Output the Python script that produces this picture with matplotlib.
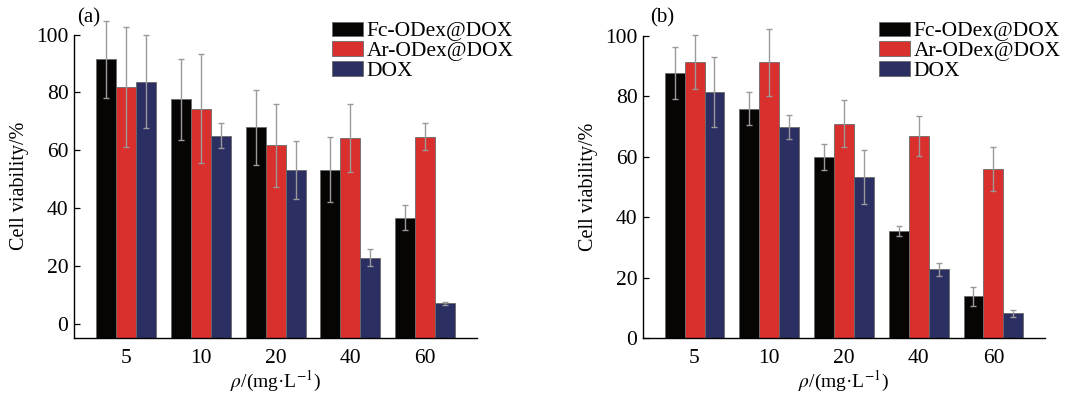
import matplotlib
matplotlib.use("Agg")
import matplotlib.pyplot as plt
import numpy as np

plt.rcParams["font.family"] = ["Liberation Serif", "DejaVu Serif"]
plt.rcParams["mathtext.fontset"] = "stix"

doses = ["5", "10", "20", "40", "60"]
series = ["Fc-ODex@DOX", "Ar-ODex@DOX", "DOX"]
colors = ["#070404", "#d92f2d", "#2c2f62"]

# panel (a)
fc_a = [91.4, 77.7, 67.9, 53.3, 36.8]
fc_a_err = [13.3, 14.0, 12.9, 11.3, 4.4]
ar_a = [81.9, 74.3, 61.7, 64.3, 64.7]
ar_a_err = [20.7, 18.8, 14.4, 11.8, 4.6]
dox_a = [83.7, 65.1, 53.2, 23.0, 7.2]
dox_a_err = [16.1, 4.2, 9.9, 3.1, 0.5]

# panel (b)
fc_b = [87.7, 75.9, 59.9, 35.5, 13.8]
fc_b_err = [8.7, 5.5, 4.4, 1.7, 3.1]
ar_b = [91.3, 91.3, 71.0, 66.9, 56.0]
ar_b_err = [9.0, 11.1, 7.7, 6.6, 7.4]
dox_b = [81.4, 69.8, 53.3, 22.7, 8.2]
dox_b_err = [11.5, 4.0, 8.8, 2.1, 1.2]

WIDTH = 0.267


def draw_panel(ax, values, errors, ymin, tag, tag_xy, legend_xy):
    x = np.arange(len(doses))
    handles = []
    for i, (vals, errs) in enumerate(zip(values, errors)):
        vals = np.asarray(vals)
        pos = x + (i - 1) * WIDTH
        bars = ax.bar(pos, vals - ymin, WIDTH, bottom=ymin, color=colors[i],
                      edgecolor="#6a6a6a", linewidth=0.6, label=series[i], zorder=2)
        ax.errorbar(pos, vals, yerr=errs, fmt="none", ecolor="#9a9a9a",
                    elinewidth=1.0, capsize=2.5, capthick=1.0, zorder=3, clip_on=False)
        handles.append(bars)

    ax.set_xlim(-0.69, 4.69)
    ax.set_ylim(ymin, 100)
    ax.set_xticks(x)
    ax.set_xticklabels(doses)
    ax.set_yticks([0, 20, 40, 60, 80, 100])
    ax.tick_params(axis="y", direction="in", length=4, width=0.9, labelsize=15.5, pad=4)
    ax.tick_params(axis="x", length=0, labelsize=15.5, pad=8)
    for side in ("top", "right"):
        ax.spines[side].set_visible(False)
    ax.spines["left"].set_bounds(ymin, 100)
    ax.spines["left"].set_linewidth(1.0)
    ax.spines["bottom"].set_linewidth(1.0)

    ax.set_ylabel("Cell viability/%", fontsize=14.5, labelpad=5)
    ax.set_xlabel(r"$\rho$/(mg·L$^{-1}$)", fontsize=14, labelpad=0.5)

    fig = ax.figure
    fig.text(tag_xy[0], tag_xy[1], tag, fontsize=15, ha="left", va="top")
    fig.legend(handles=handles, labels=series, loc="upper left",
               bbox_to_anchor=legend_xy, bbox_transform=fig.transFigure,
               frameon=False, fontsize=15.5, handlelength=1.45, handleheight=0.65,
               handletextpad=0.15, labelspacing=0.0, borderpad=0, borderaxespad=0)


fig = plt.figure(figsize=(10.81, 3.94), dpi=100)
ax_a = fig.add_axes([0.0685, 0.1421, 0.3728, 0.7703])
ax_b = fig.add_axes([0.5948, 0.1421, 0.3719, 0.7665])

draw_panel(ax_a, [fc_a, ar_a, dox_a], [fc_a_err, ar_a_err, dox_a_err], -4.8,
           "(a)", (0.071, 0.978), (0.307, 0.945))
draw_panel(ax_b, [fc_b, ar_b, dox_b], [fc_b_err, ar_b_err, dox_b_err], 0,
           "(b)", (0.601, 0.98), (0.813, 0.945))

fig.savefig("out.png", dpi=100)
